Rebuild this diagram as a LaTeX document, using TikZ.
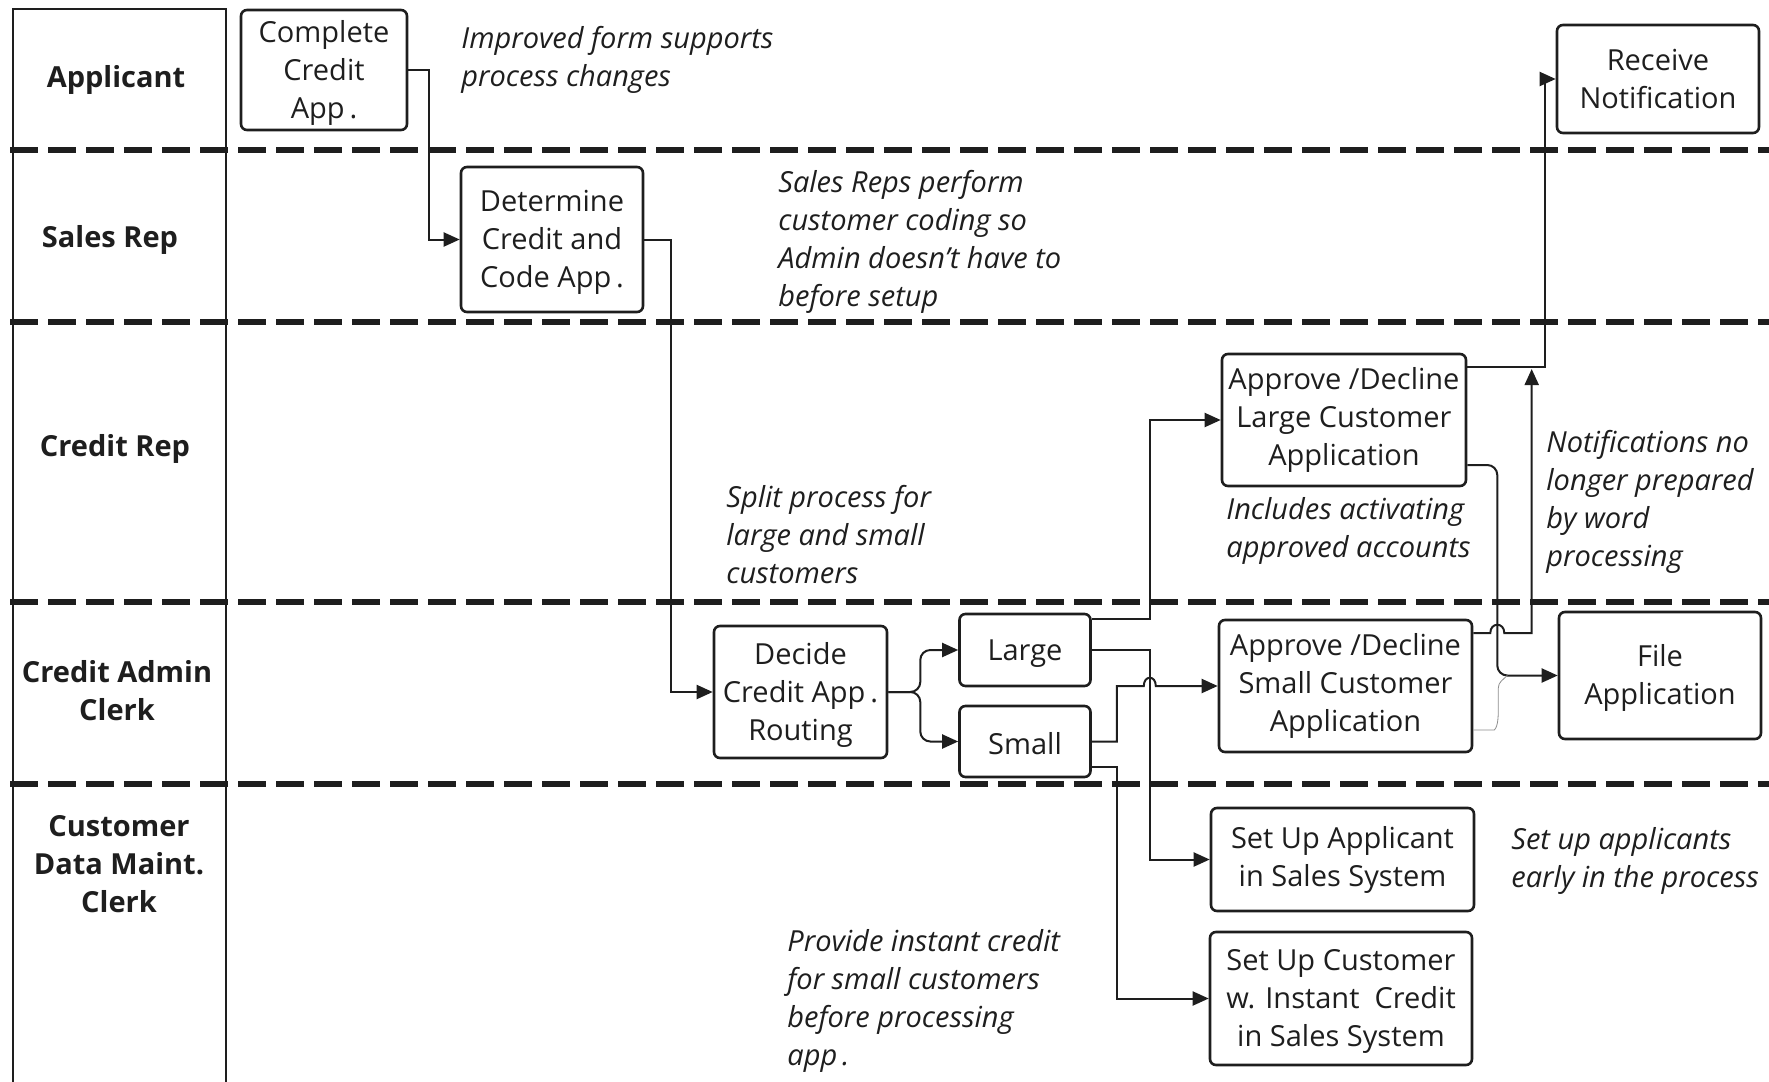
\documentclass[tikz,border=0pt]{standalone}
\usepackage{fontspec}
\setmainfont{Open Sans}
\usetikzlibrary{arrows.meta,calc}
\definecolor{ink}{HTML}{1E1E1E}
\newcommand\boxfont{\fontsize{14.5}{19}\selectfont}
\newcommand\lanefont{\fontsize{14.5}{19}\selectfont\bfseries}
\newcommand\notefont{\fontsize{14.5}{19}\selectfont\itshape}
% taller first line, so box texts sit a little lower
\newcommand\topstrut{\rule{0pt}{13.5pt}}
% left-aligned block whose reference point is the baseline of its first line
\newcommand\notelines[1]{\begin{tabular}[t]{@{}l@{}}#1\end{tabular}}
\begin{document}
\begin{tikzpicture}[x=0.5pt,y=-0.5pt,
  every node/.style={text=ink},
  box/.style={draw=ink,line width=1.3pt,rounded corners=3pt,align=center,
    inner sep=0pt,font=\boxfont,execute at begin node=\topstrut},
  sz/.style 2 args={minimum width=#1*0.5pt,minimum height=#2*0.5pt},
  lane/.style={align=center,inner sep=0pt,font=\lanefont},
  note/.style={inner sep=0pt,anchor=base west,font=\notefont},
  conn/.style={draw=ink,line width=1pt,-{Triangle[length=8pt,width=7pt]}},
  lanesep/.style={draw=ink,line width=2.6pt,dash pattern=on 14pt off 5pt},
  frame/.style={draw=ink,line width=1.3pt},
  faint/.style={draw=black!45,line width=0.4pt}
]
\useasboundingbox (0,0) rectangle (1769,1082);

% swimlane header column and lane separators
\draw[frame] (13,1090) -- (13,9) -- (226,9) -- (226,1090);
\foreach \yy in {150,322,602,784}
  \draw[lanesep] (10,\yy) -- (1775,\yy);

% lane titles
\node[lane] (lapp) at (116,80) {Applicant};
\node[lane] (lsr) at (110,239.5) {Sales Rep};
\node[lane] (lcr) at (115,449) {Credit Rep};
\node[lane] (lcac) at (117,690.5) {Credit Admin\\Clerk};
\node[lane] (ldmc) at (119,864.5) {Customer\\Data Maint.\\Clerk};

% process steps
\node[box,sz={166}{120}] (comp) at (324,70) {\topstrut Complete\\Credit\\App\,.};
\node[box,sz={182}{145}] (det) at (552,239.5) {\topstrut Determine\\Credit and\\Code App\,.};
\node[box,sz={173}{132}] (dec) at (800.5,692) {\topstrut Decide\\Credit App\,.\\Routing};
\node[box,sz={131}{72}] (large) at (1025,650) {Large};
\node[box,sz={131}{71}] (small) at (1025,741.5) {Small};
\node[box,sz={244}{132}] (apl) at (1344,420) {Approve /Decline\\Large Customer\\Application};
\node[box,sz={253}{132}] (aps) at (1345.5,686) {Approve /Decline\\Small Customer\\Application};
\node[box,sz={202}{127}] (file) at (1660,675.5) {\topstrut File\\Application};
\node[box,sz={202}{108}] (recv) at (1658,79) {Receive\\Notification};
\node[box,sz={263}{103}] (sua) at (1342.5,859.5) {Set Up Applicant\\in Sales System};
\node[box,sz={262}{133}] (suc) at (1341,998.5) {\topstrut Set Up Customer\\w. Instant\ \ Credit\\in Sales System};

% annotations
\node[note] (n1) at (461,48) {\notelines{Improved form supports\\process changes}};
\node[note] (n2) at (778,192) {\notelines{Sales Reps perform\\customer coding so\\Admin doesn’t have to\\before setup}};
\node[note] (n3) at (726,507) {\notelines{Split process for\\large and small\\customers}};
\node[note] (n4) at (1226,519) {\notelines{Includes activating\\approved accounts}};
\node[note] (n5) at (1546,452) {\notelines{Notifications no\\longer prepared\\by word\\processing}};
\node[note] (n6) at (1511,849) {\notelines{Set up applicants\\early in the process}};
\node[note] (n7) at (787,951) {\notelines{Provide instant credit\\for small customers\\before processing\\app\,.}};

% routing buses
\coordinate (bus) at ($(large.east)+(58,0)$);
\coordinate (sbus) at ($(small.east)+(25,0)$);
\coordinate (fbus) at ($(apl.east)+(30,0)$);
\coordinate (nbus) at ($(recv.west)+(-24,0)$);

% flow
\draw[conn] (comp.east) -- ++(21,0) |- (det.west);
\draw[conn] (det.east) -- ++(27,0) |- (dec.west);
\draw[conn,rounded corners=5pt] (dec.east) -- ++(32,0) |- (large.west);
\draw[conn,rounded corners=5pt] (dec.east) -- ++(32,0) |- (small.west);

\draw[conn] ($(large.east)+(0,-31)$) -| (bus |- apl.west) -- (apl.west);
\draw[conn] (large.east) -- (bus) |- (sua.west);

\draw[conn] (small.east) -- (sbus) |- ($(bus |- aps.west)+(-6,0)$)
  .. controls +(0,-11) and +(0,-11) .. ($(bus |- aps.west)+(6,0)$) -- (aps.west);
\draw[conn] ($(small.east)+(0,25)$) -- ++(25,0) |- (suc.west);

\draw[conn] ($(apl.east)+(0,-53)$) -- ($(apl.east)+(78,-53)$) |- (recv.west);

\draw[conn] ($(aps.east)+(0,-53)$) -- ($(fbus |- aps.east)+(-7,-53)$)
  .. controls +(0,-11) and +(0,-11) .. ($(fbus |- aps.east)+(7,-53)$)
  -| ($(nbus |- apl.east)+(0,-51)$);

\draw[conn,rounded corners=5pt] ($(apl.east)+(0,45)$) -| (fbus |- file.west) -- (file.west);
\draw[faint] ($(aps.east)+(0,44)$) -- ($(fbus |- aps.east)+(-3,44)$)
  .. controls +(4,-4) and +(0,10) .. ($(fbus |- aps.east)+(1,20)$)
  -- ($(fbus |- aps.east)+(1,2)$) .. controls +(0,-6) and +(-4,4) .. ($(fbus |- file.west)+(10,0)$);
\end{tikzpicture}
\end{document}
